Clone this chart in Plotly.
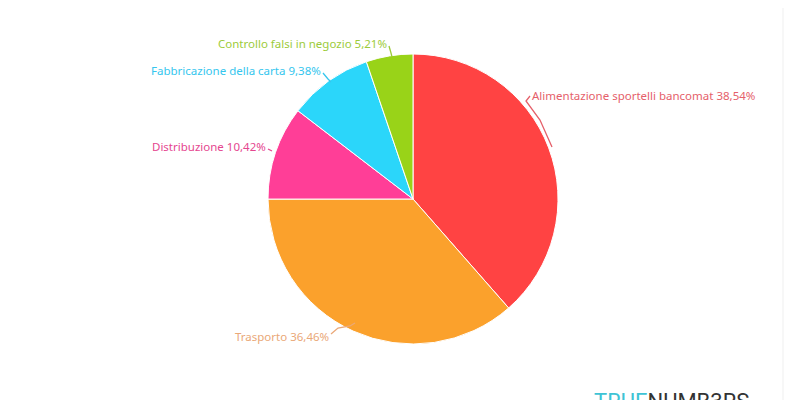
import plotly.graph_objects as go

categories = ["Alimentazione sportelli bancomat", "Trasporto", "Distribuzione",
              "Fabbricazione della carta", "Controllo falsi in negozio"]
values = [38.54, 36.46, 10.42, 9.38, 5.21]
value_labels = ["38,54%", "36,46%", "10,42%", "9,38%", "5,21%"]

slice_colors = ["#FF4343", "#FBA12C", "#FF3E97", "#2BD6FA", "#99D318"]
text_colors = ["#E5606A", "#EAA878", "#E5468F", "#35C6EE", "#9CCB3A"]

W, H = 800, 400
OFF = 8  # page body margin offset
def px(x):
    return (x - OFF) / W
def py(y):
    return 1 - (y - OFF) / H

# label anchor (pixel) positions and alignment
label_pos = [(530, 96, "left"), (331, 336, "right"), (268, 147, "right"),
             (323, 71, "right"), (389, 44, "right")]
# leader line paths (pixel)
leaders = [
    [(530, 96), (526, 101), (540, 120), (552, 147)],
    [(331, 334), (338, 328), (350, 326), (355, 323)],
    [(268, 149), (272, 151)],
    [(323, 73), (328, 79), (331, 82)],
    [(389, 46), (391, 53), (392, 57)],
]

fig = go.Figure(go.Pie(
    labels=categories,
    values=values,
    sort=False,
    direction="clockwise",
    rotation=0,
    textinfo="none",
    marker=dict(colors=slice_colors, line=dict(color="white", width=1)),
    domain=dict(x=[px(268), px(558)], y=[py(344), py(54)]),
    showlegend=False,
))

annotations = []
shapes = []
for i, (cat, lab) in enumerate(zip(categories, value_labels)):
    x, y, align = label_pos[i]
    annotations.append(dict(
        x=px(x), y=py(y), xref="paper", yref="paper",
        text=f"{cat} {lab}", showarrow=False,
        xanchor=align, yanchor="middle",
        font=dict(family="Noto Sans", size=11.5, color=text_colors[i]),
    ))
    pts = leaders[i]
    path = "M " + " L ".join(f"{px(a):.5f},{py(b):.5f}" for a, b in pts)
    shapes.append(dict(type="path", xref="paper", yref="paper", path=path,
                       line=dict(color=text_colors[i], width=1.3)))

# page border line on the right
shapes.append(dict(type="line", xref="paper", yref="paper",
                   x0=px(783), x1=px(783), y0=0, y1=1,
                   line=dict(color="#EFEFEF", width=1)))

# logo partially visible at the bottom
annotations.append(dict(
    x=px(592), y=py(387), xref="paper", yref="paper", showarrow=False,
    xanchor="left", yanchor="top",
    text="<span style='color:#3EC3D5'>TRUE</span><span style='color:#333333'>NUMB3RS</span>",
    font=dict(family="Roboto", size=22, color="#333333"),
))

fig.update_layout(
    width=W, height=H,
    margin=dict(l=0, r=0, t=0, b=0),
    paper_bgcolor="white", plot_bgcolor="white",
    annotations=annotations, shapes=shapes,
)

fig.write_html("out.html")
